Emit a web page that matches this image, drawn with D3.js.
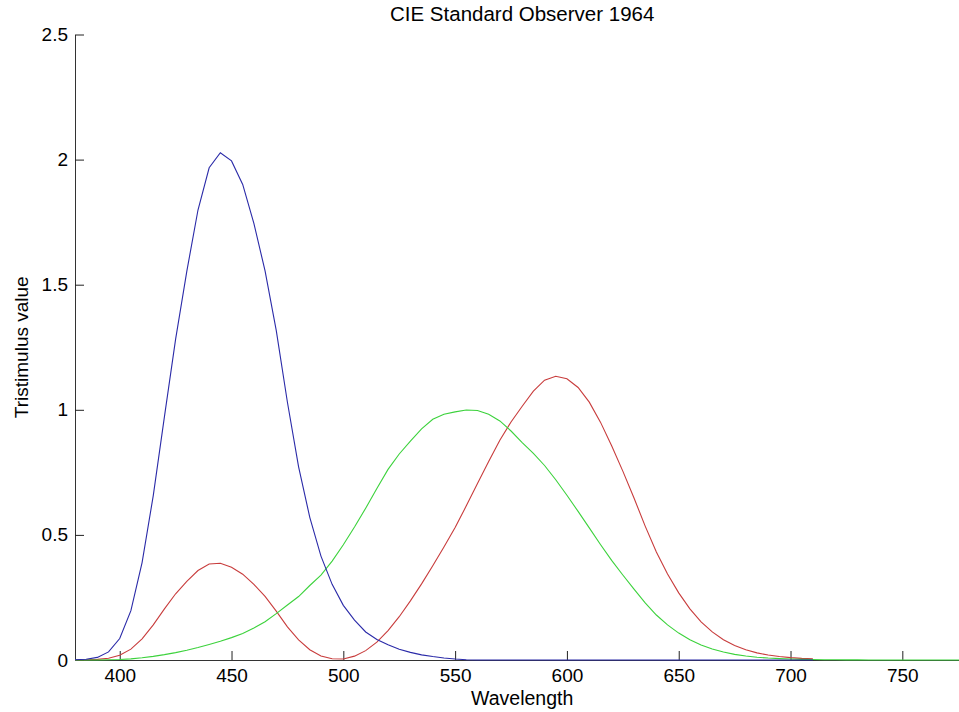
<!DOCTYPE html>
<html>
<head>
<meta charset="utf-8">
<title>CIE Standard Observer 1964</title>
<script src="https://cdn.jsdelivr.net/npm/d3@7"></script>
<style>
  body { margin: 0; background: #fff; }
  text { font-family: "Liberation Sans", Arial, sans-serif; fill: #000; }
</style>
</head>
<body>
<div id="chart-area"></div>
<script>

/* Data (5 nm steps) */
var wavelengths = d3.range(380, 781, 5);

// red curve, 380..710
var xBar = [0.0002, 0.0007, 0.0024, 0.0072, 0.0191, 0.0434, 0.0847, 0.1406, 0.2045, 0.2647,
  0.3147, 0.3577, 0.3837, 0.3867, 0.3707, 0.3430, 0.3023, 0.2541, 0.1956, 0.1323,
  0.0805, 0.0411, 0.0162, 0.0051, 0.0038, 0.0154, 0.0375, 0.0714, 0.1177, 0.1730,
  0.2365, 0.3042, 0.3768, 0.4516, 0.5298, 0.6161, 0.7052, 0.7938, 0.8787, 0.9512,
  1.0142, 1.0743, 1.1185, 1.1343, 1.1240, 1.0891, 1.0305, 0.9507, 0.8563, 0.7549,
  0.6475, 0.5351, 0.4316, 0.3437, 0.2683, 0.2043, 0.1526, 0.1122, 0.0813, 0.0579,
  0.0409, 0.0286, 0.0199, 0.0138, 0.0096, 0.0066, 0.0046];

// green curve, 380..780
var yBar = [0.0000, 0.0001, 0.0003, 0.0008, 0.0020, 0.0045, 0.0088, 0.0145, 0.0214, 0.0295,
  0.0387, 0.0496, 0.0621, 0.0747, 0.0895, 0.1063, 0.1282, 0.1528, 0.1852, 0.2199,
  0.2536, 0.2977, 0.3391, 0.3954, 0.4608, 0.5314, 0.6067, 0.6857, 0.7618, 0.8233,
  0.8752, 0.9238, 0.9620, 0.9822, 0.9918, 0.9991, 0.9973, 0.9824, 0.9556, 0.9152,
  0.8689, 0.8256, 0.7774, 0.7204, 0.6583, 0.5939, 0.5280, 0.4618, 0.3981, 0.3396,
  0.2835, 0.2283, 0.1798, 0.1402, 0.1076, 0.0812, 0.0603, 0.0441, 0.0318, 0.0226,
  0.0159, 0.0111, 0.0077, 0.0054, 0.0037, 0.0026, 0.0018, 0.0012, 0.0008, 0.0006,
  0.0004, 0.0003, 0.0002, 0.0001, 0.0001, 0.0001, 0.0000, 0.0000, 0.0000, 0.0000,
  0.0000];

// blue curve, 380..710
var zBar = [0.0007, 0.0029, 0.0105, 0.0323, 0.0860, 0.1971, 0.3894, 0.6568, 0.9725, 1.2825,
  1.5535, 1.7985, 1.9673, 2.0273, 1.9948, 1.9007, 1.7454, 1.5549, 1.3176, 1.0302,
  0.7721, 0.5701, 0.4153, 0.3024, 0.2185, 0.1592, 0.1120, 0.0822, 0.0607, 0.0431,
  0.0305, 0.0206, 0.0137, 0.0079, 0.0040, 0.0011, 0, 0, 0, 0,
  0, 0, 0, 0, 0, 0, 0, 0, 0, 0,
  0, 0, 0, 0, 0, 0, 0, 0, 0, 0,
  0, 0, 0, 0, 0, 0, 0];

var xTicks = [400, 450, 500, 550, 600, 650, 700, 750];
var yTicks = [0, 0.5, 1, 1.5, 2, 2.5];
var yTickLabels = ["0", "0.5", "1", "1.5", "2", "2.5"];


/* Plot frame */
var width = 959, height = 712;
var plot = { left: 75, right: 969.4, top: 34.5, bottom: 660 };

var svg = d3.select("#chart-area").append("svg")
  .attr("width", width)
  .attr("height", height)
  .style("display", "block");


/* Scales */
var x = d3.scaleLinear()
  .domain([380, 780])
  .range([plot.left, plot.right]);

var y = d3.scaleLinear()
  .domain([0, 2.5])
  .range([plot.bottom, plot.top]);


/* Axes (ticks point inward) */
var xAxisCall = d3.axisBottom(x)
  .tickValues(xTicks)
  .tickSizeInner(-9)
  .tickSizeOuter(0)
  .tickPadding(9)
  .tickFormat(d3.format("d"));

var gx = svg.append("g")
  .attr("class", "x axis")
  .attr("transform", "translate(0, " + plot.bottom + ")")
  .call(xAxisCall);

var yAxisCall = d3.axisLeft(y)
  .tickValues(yTicks)
  .tickSizeInner(-9)
  .tickSizeOuter(0)
  .tickPadding(7)
  .tickFormat((d, i)=>{ return yTickLabels[i]; });

var gy = svg.append("g")
  .attr("class", "y axis")
  .attr("transform", "translate(" + plot.left + ", 0)")
  .call(yAxisCall);

svg.selectAll(".axis text")
  .attr("font-size", "19px")
  .attr("font-family", "Liberation Sans, Arial, sans-serif");
svg.selectAll(".axis .domain").attr("stroke", "#333");
svg.selectAll(".axis .tick line").attr("stroke", "#222");


/* Curves */
var series = [
  { values: xBar, color: "#c83c3c" },
  { values: yBar, color: "#3cd23c" },
  { values: zBar, color: "#2a2aa8" }
];

var line = d3.line()
  .x((d)=>{ return x(d[0]); })
  .y((d)=>{ return y(d[1]); });

svg.selectAll(".curve")
  .data(series)
  .enter()
  .append("path")
    .attr("class", "curve")
    .attr("fill", "none")
    .attr("stroke", (d)=>{ return d.color; })
    .attr("stroke-width", 1.1)
    .attr("d", (d)=>{ return line(d.values.map((v, i)=>{ return [wavelengths[i], v]; })); });


/* Labels */
svg.append("text")
  .attr("x", (plot.left + plot.right) / 2)
  .attr("y", 21)
  .attr("font-size", "20.5px")
  .attr("text-anchor", "middle")
  .text("CIE Standard Observer 1964");

svg.append("text")
  .attr("x", (plot.left + plot.right) / 2)
  .attr("y", 705)
  .attr("font-size", "19.5px")
  .attr("text-anchor", "middle")
  .text("Wavelength");

svg.append("text")
  .attr("transform", "translate(28, " + (plot.top + plot.bottom) / 2 + ") rotate(-90)")
  .attr("font-size", "19px")
  .attr("text-anchor", "middle")
  .text("Tristimulus value");

</script>
</body>
</html>
